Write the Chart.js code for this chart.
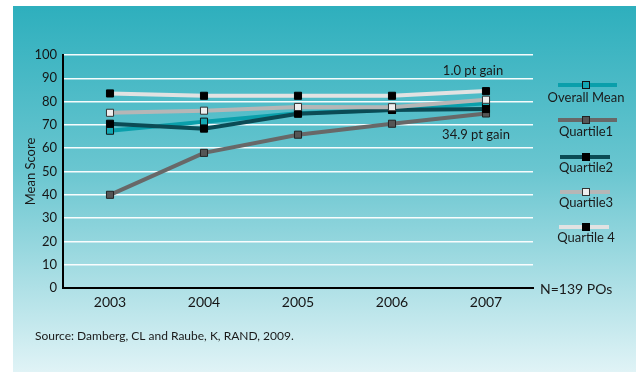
<!DOCTYPE html>
<html>
<head>
<meta charset="utf-8">
<script src="https://cdn.jsdelivr.net/npm/chart.js@4/dist/chart.umd.min.js"></script>
<style>
  html, body { margin: 0; padding: 0; background: #fff; }
  #wrap { position: relative; width: 638px; height: 372px; }
  canvas { display: block; }
</style>
</head>
<body>
<div id="wrap"><canvas id="c" width="638" height="372"></canvas></div>
<script>
// Mean score by performance quartile, 2003-2007
const years = ['2003', '2004', '2005', '2006', '2007'];
const overallMean = [67.5, 71.4, 75.0, 76.5, 79.3];
const quartile1   = [40.0, 58.0, 65.8, 70.5, 74.9];
const quartile2   = [70.5, 68.4, 74.8, 76.4, 76.8];
const quartile3   = [75.2, 76.1, 77.7, 77.6, 80.8];
const quartile4   = [83.5, 82.5, 82.5, 82.5, 84.5];
const seriesNames = ['Overall Mean', 'Quartile1', 'Quartile2', 'Quartile3', 'Quartile 4'];
const yTicks = [0, 10, 20, 30, 40, 50, 60, 70, 80, 90, 100];

const FONT = 'Lato, "DejaVu Sans", sans-serif';

function series(label, data, line, fill, stroke, order) {
  return {
    label, data,
    borderColor: line, borderWidth: 4,
    pointStyle: 'rect', pointRadius: 5, pointHoverRadius: 5,
    pointBackgroundColor: fill, pointBorderColor: stroke, pointBorderWidth: 1,
    tension: 0, fill: false, order
  };
}

const datasets = [
  series(seriesNames[0], overallMean, '#0a9fab', '#14a7b2', '#111', 3),
  series(seriesNames[1], quartile1,   '#686868', '#555555', '#222', 4),
  series(seriesNames[2], quartile2,   '#0b4b55', '#000000', '#000', 2),
  series(seriesNames[3], quartile3,   '#b6b6b6', '#eeeeee', '#333', 1),
  series(seriesNames[4], quartile4,   '#e2e2e2', '#000000', '#000', 0)
];

// Teal panel with vertical gradient behind the plot
const panel = {
  id: 'panel',
  beforeDraw(chart) {
    const ctx = chart.ctx;
    ctx.save();
    ctx.fillStyle = '#ffffff';
    ctx.fillRect(0, 0, chart.width, chart.height);
    const g = ctx.createLinearGradient(0, 6, 0, 372);
    g.addColorStop(0, '#2eafbd');
    g.addColorStop(0.45, '#6ac6d0');
    g.addColorStop(1, '#e0f3f6');
    ctx.fillStyle = g;
    ctx.fillRect(13, 6, 623, 366);
    ctx.restore();
  }
};

// Side legend, gain notes, sample size and source line
const notes = {
  id: 'notes',
  afterDraw(chart) {
    const ctx = chart.ctx;
    const xs = chart.scales.x, ys = chart.scales.y;
    ctx.save();
    ctx.fillStyle = '#1a1a1a';
    ctx.textAlign = 'center';
    ctx.textBaseline = 'middle';

    // gain labels computed from first/last values
    const lastX = xs.getPixelForValue(years.length - 1);
    const g4 = (quartile4[4] - quartile4[0]).toFixed(1);
    const g1 = (quartile1[4] - quartile1[0]).toFixed(1);
    ctx.font = '13px ' + FONT;
    ctx.fillText(g4 + ' pt gain', lastX - 13, ys.getPixelForValue(93.1));
    ctx.fillText(g1 + ' pt gain', lastX - 10, ys.getPixelForValue(65.7));

    // sample size beside the x axis end
    ctx.textAlign = 'left';
    ctx.font = '14px ' + FONT;
    ctx.fillText('N=139 POs', 540, ys.getPixelForValue(0) + 1);

    // source
    ctx.font = '12px ' + FONT;
    ctx.fillText('Source: Damberg, CL and Raube, K, RAND, 2009.', 35, 336);

    // legend: line sample with marker, name underneath
    const rows = [
      [558, 617, 85, 98],
      [558, 617, 120, 132],
      [560, 610, 157, 168],
      [560, 610, 192, 203],
      [559, 609, 227, 238]
    ];
    chart.data.datasets.forEach((ds, i) => {
      const [x0, x1, ly, ty] = rows[i];
      ctx.strokeStyle = ds.borderColor;
      ctx.lineWidth = 4;
      ctx.beginPath();
      ctx.moveTo(x0, ly);
      ctx.lineTo(x1, ly);
      ctx.stroke();
      const cx = 586;
      ctx.fillStyle = ds.pointBackgroundColor;
      ctx.fillRect(cx - 3.5, ly - 3.5, 7, 7);
      ctx.strokeStyle = ds.pointBorderColor;
      ctx.lineWidth = 1;
      ctx.strokeRect(cx - 3.5, ly - 3.5, 7, 7);
      ctx.fillStyle = '#1a1a1a';
      ctx.textAlign = 'center';
      ctx.font = '13px ' + FONT;
      ctx.fillText(ds.label, cx, ty);
    });
    ctx.restore();
  }
};

new Chart(document.getElementById('c'), {
  type: 'line',
  data: { labels: years, datasets },
  options: {
    responsive: false,
    animation: false,
    events: [],
    layout: { padding: { left: 13, right: 105, top: 55, bottom: 54 } },
    plugins: { legend: { display: false }, tooltip: { enabled: false } },
    scales: {
      x: {
        offset: true,
        grid: { display: false, drawTicks: false },
        border: { display: true, color: '#000', width: 2 },
        ticks: { color: '#151515', font: { family: FONT, size: 14 }, padding: 6 },
        afterFit(s) { s.height = 30; }
      },
      y: {
        min: 0, max: 100,
        afterBuildTicks(s) { s.ticks = yTicks.map(v => ({ value: v })); },
        grid: { color: 'rgba(255,255,255,0.95)', lineWidth: 1.5, drawTicks: false },
        border: { display: true, color: '#000', width: 2 },
        ticks: { color: '#151515', font: { family: FONT, size: 13 }, padding: 6 },
        title: { display: true, text: 'Mean Score', color: '#1a1a1a', font: { family: FONT, size: 13 }, padding: { top: 10, bottom: 0 } },
        afterFit(s) { s.width = 50; }
      }
    }
  },
  plugins: [panel, notes]
});
</script>
</body>
</html>
